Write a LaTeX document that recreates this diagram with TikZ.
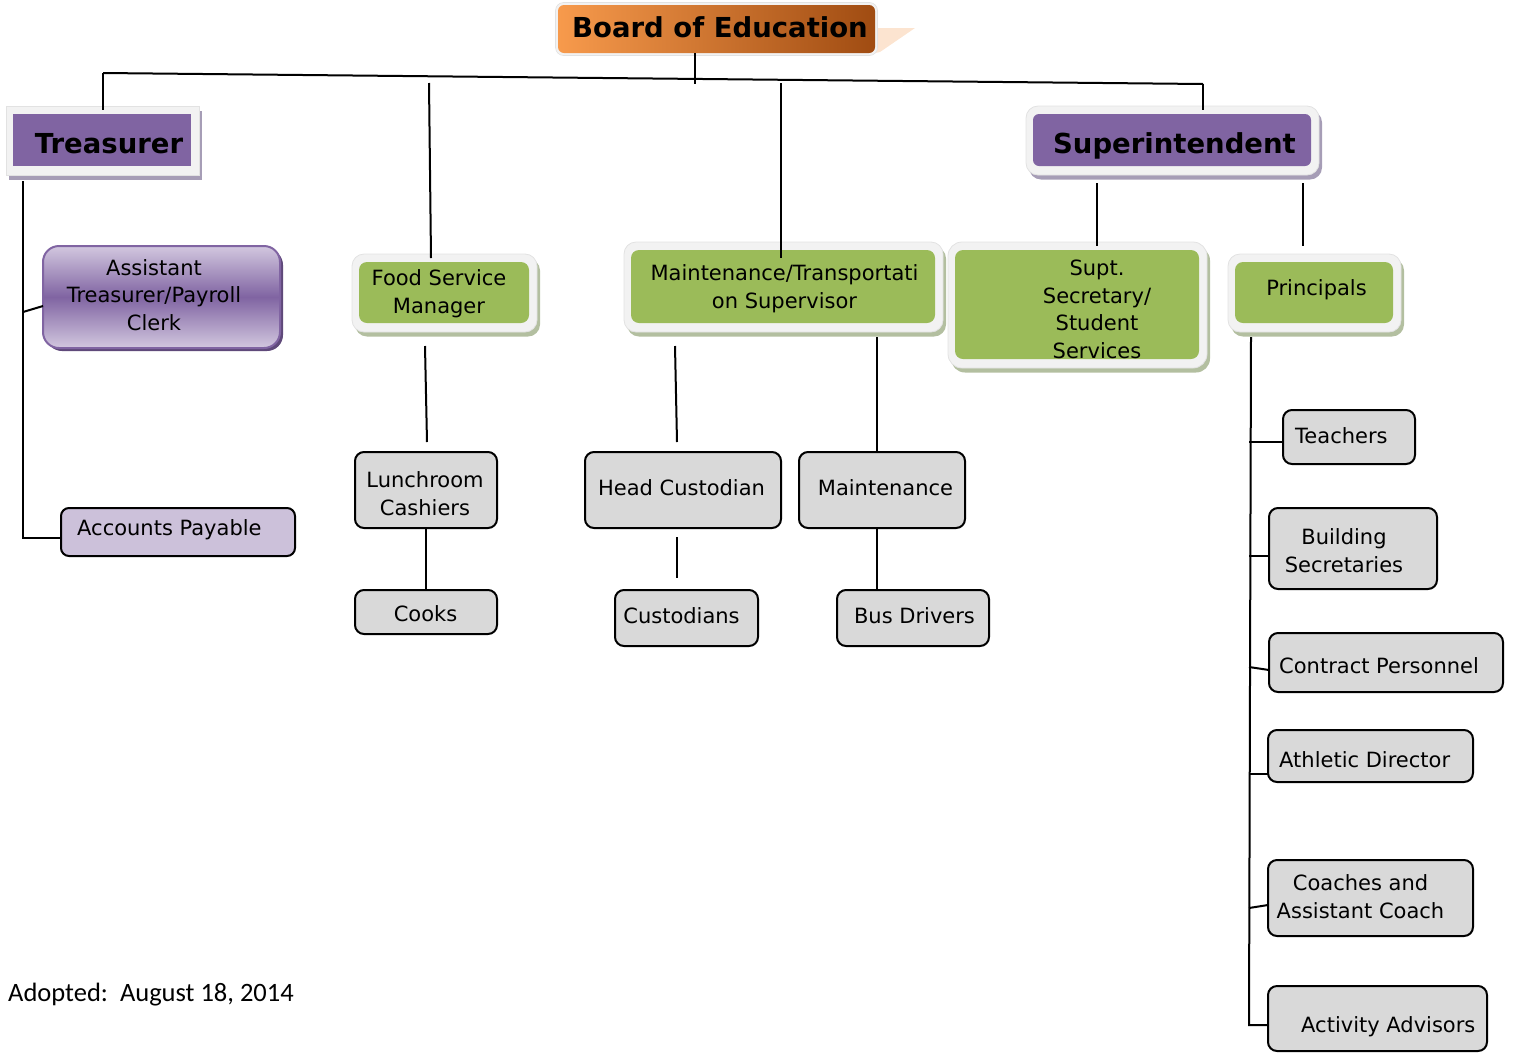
\documentclass[tikz,border=0pt]{standalone}
\usepackage{fontspec}
\setmainfont{DejaVu Sans}
\newfontfamily\calibfont{Carlito}
\usetikzlibrary{backgrounds,calc}
\definecolor{orangeL}{HTML}{F79A4C}
\definecolor{orangeD}{HTML}{A04C12}
\definecolor{purp}{HTML}{8064A2}
\definecolor{purpL}{HTML}{D2C7DF}
\definecolor{purpS}{HTML}{5F497A}
\definecolor{purpshadow}{HTML}{A69DB6}
\definecolor{greenbox}{HTML}{9BBB59}
\definecolor{greenshadow}{HTML}{B3BFA0}
\definecolor{framegray}{HTML}{F2F2F2}
\definecolor{frameedge}{HTML}{E2E2E2}
\definecolor{lav}{HTML}{CCC1DA}
\definecolor{boxgray}{HTML}{D9D9D9}
\definecolor{peach}{HTML}{FCE4D0}
\newcommand\myframe[3]{%
  \fill[#2, rounded corners=#3] ([shift={(-4pt,-13.5pt)}]#1.south west) rectangle ([shift={(11pt,3.5pt)}]#1.north east);
  \fill[framegray, draw=frameedge, line width=0.8pt, rounded corners=#3] ([shift={(-7pt,-9pt)}]#1.south west) rectangle ([shift={(8pt,8pt)}]#1.north east);
}
\begin{document}
\begin{tikzpicture}[x=1pt,y=-1pt,
  shape box/.style={rectangle, inner sep=0pt, outer sep=0pt},
  graybox/.style={shape box, draw=black, line width=2pt, rounded corners=9pt, fill=boxgray},
  lavbox/.style={shape box, draw=black, line width=2pt, rounded corners=8pt, fill=lav},
  purpbox/.style={shape box, fill=purp},
  greenbox/.style={shape box, fill=greenbox, rounded corners=8pt},
  orangebox/.style={shape box, rounded corners=6pt, left color=orangeL, right color=orangeD},
  txt/.style={inner sep=0pt, align=center, font=\fontsize{21}{27.5}\selectfont},
  bigtxt/.style={inner sep=0pt, font=\fontsize{27.5}{30}\selectfont\bfseries},
  conn/.style={draw=black, line width=2pt}]
\useasboundingbox (0,0) rectangle (1513,1053);
% ---------- boxes ----------
\node[orangebox, minimum width=317pt, minimum height=48pt] (board) at (716.5,29) {};
\node[purpbox, minimum width=178pt, minimum height=52pt] (tre) at (102,140) {};
\node[purpbox, rounded corners=6pt, minimum width=278pt, minimum height=52pt] (sup) at (1172,140) {};
\node[shape box, draw=purp, line width=2pt, rounded corners=16pt, top color=purpL, bottom color=purpL, middle color=purp, minimum width=237pt, minimum height=102pt] (ast) at (161.5,297) {};
\node[lavbox, minimum width=234pt, minimum height=48pt] (ap) at (178,532) {};
\node[greenbox, minimum width=170pt, minimum height=61pt] (food) at (444,292.5) {};
\node[greenbox, minimum width=304pt, minimum height=73pt] (maint) at (783,286.5) {};
\node[greenbox, minimum width=244pt, minimum height=109pt] (supt) at (1077,304.5) {};
\node[greenbox, minimum width=158pt, minimum height=61pt] (princ) at (1314,292.5) {};
\node[graybox, minimum width=142pt, minimum height=76pt] (lunch) at (426,490) {};
\node[graybox, minimum width=142pt, minimum height=44pt] (cooks) at (426,612) {};
\node[graybox, minimum width=196pt, minimum height=76pt] (head) at (683,490) {};
\node[graybox, minimum width=143pt, minimum height=56pt] (cust) at (686.5,618) {};
\node[graybox, minimum width=166pt, minimum height=76pt] (mbox) at (882,490) {};
\node[graybox, minimum width=152pt, minimum height=56pt] (bus) at (913,618) {};
\node[graybox, minimum width=132pt, minimum height=54pt] (teach) at (1349,437) {};
\node[graybox, minimum width=168pt, minimum height=81pt] (bld) at (1353,548.5) {};
\node[graybox, minimum width=234pt, minimum height=59pt] (con) at (1386,662.5) {};
\node[graybox, minimum width=205pt, minimum height=52pt] (ath) at (1370.5,756) {};
\node[graybox, minimum width=205pt, minimum height=76pt] (coa) at (1370.5,898) {};
\node[graybox, minimum width=219pt, minimum height=65pt] (act) at (1377.5,1018.5) {};
% ---------- frames and shadows ----------
\begin{scope}[on background layer]
  \fill[peach] ($(board.north east)+(0,23)$) -- ++(40,0) -- ($(board.south east)+(5,-1)$) -- (board.south east) -- cycle;
  \fill[framegray, draw=frameedge, line width=0.6pt, rounded corners=8pt] ([shift={(-2.5pt,-2.5pt)}]board.south west) rectangle ([shift={(2.5pt,2.5pt)}]board.north east);
  \myframe{tre}{purpshadow}{0pt}
  \myframe{sup}{purpshadow}{12pt}
  \myframe{food}{greenshadow}{12pt}
  \myframe{maint}{greenshadow}{12pt}
  \myframe{supt}{greenshadow}{14pt}
  \myframe{princ}{greenshadow}{12pt}
  \fill[purpS, rounded corners=16pt] ([shift={(3pt,-3pt)}]ast.south west) rectangle ([shift={(3pt,-3pt)}]ast.north east);
\end{scope}
% ---------- texts (multi-line: anchor at last baseline) ----------
\node[bigtxt, anchor=base] (tboard) at (720,37) {Board of Education};
\node[bigtxt, anchor=base] (ttre) at (109,153) {Treasurer};
\node[bigtxt, anchor=base] (tsup) at (1174.5,153) {Superintendent};
\node[txt, anchor=base] (tast) at (154,330) {Assistant\\Treasurer/Payroll\\Clerk};
\node[txt, anchor=base west] (tap) at (77,535) {Accounts Payable};
\node[txt, anchor=base] (tfood) at (439,313) {Food Service\\Manager};
\node[txt, anchor=base] (tmaint) at (784.5,308) {Maintenance/Transportati\\on Supervisor};
\node[txt, anchor=base] (tsupt) at (1097,358) {Supt.\\Secretary/\\Student\\Services};
\node[txt, anchor=base] (tprinc) at (1316.5,295) {Principals};
\node[txt, anchor=base] (tlunch) at (425,515) {Lunchroom\\Cashiers};
\node[txt, anchor=base] (tcooks) at (425.5,621.5) {Cooks};
\node[txt, anchor=base] (thead) at (681.5,495) {Head Custodian};
\node[txt, anchor=base] (tcust) at (681.5,623) {Custodians};
\node[txt, anchor=base] (tmbox) at (885.5,495) {Maintenance};
\node[txt, anchor=base] (tbus) at (914.5,623) {Bus Drivers};
\node[txt, anchor=base west] (tteach) at (1295,443) {Teachers};
\node[txt, anchor=base] (tbld) at (1344,572) {Building\\Secretaries};
\node[txt, anchor=base west] (tcon) at (1279,673) {Contract Personnel};
\node[txt, anchor=base west] (tath) at (1279,767) {Athletic Director};
\node[txt, anchor=base] (tcoa) at (1360.5,918) {Coaches and\\Assistant Coach};
\node[txt, anchor=base west] (tact) at (1301,1032) {Activity Advisors};
\node[inner sep=0pt, anchor=base west, font=\calibfont\fontsize{26.5}{30}\selectfont] (adopt) at (8,1001) {Adopted:\ \ August 18, 2014};
% ---------- connectors ----------
\coordinate (hl) at (103,73);
\coordinate (hr) at (1203,84);
\coordinate (fa) at (429,83);
\coordinate (ma) at (781,83);
\coordinate (pv) at (1249,1025);
\draw[conn] (hl) -- (hr);
\draw[conn] ([xshift=-21.5pt]board.south) -- ++(0,31);
\draw[conn] (hl) -- ([yshift=4pt]tre.north -| hl);
\draw[conn] (hr) -- ([yshift=4pt]sup.north -| hr);
\draw[conn] (fa) -- ([xshift=-13pt,yshift=4pt]food.north);
\draw[conn] (ma) -- ([xshift=-2pt,yshift=-8pt]maint.north);
% treasurer branch
\draw[conn] ([shift={(10pt,-15pt)}]tre.south west) |- ([yshift=-6pt]ap.west);
\draw[conn] ([yshift=-15pt]ast.west -| ap.west) ++(-38,0) -- ([yshift=-9pt]ast.west);
% food service
\draw[conn] ([xshift=-19pt,yshift=-23pt]food.south) -- ([xshift=1pt,yshift=10pt]lunch.north);
\draw[conn] (lunch.south) -- (cooks.north);
% maintenance
\draw[conn] ([xshift=-108pt,yshift=-23pt]maint.south) -- ([xshift=-6pt,yshift=10pt]head.north);
\draw[conn] ([xshift=-6pt,yshift=-9pt]head.south) -- ([xshift=-9.5pt,yshift=12pt]cust.north);
\draw[conn] ([xshift=94pt,yshift=-14pt]maint.south) -- ([xshift=-5pt]mbox.north);
\draw[conn] ([xshift=-5pt]mbox.south) -- ([xshift=-36pt]bus.north);
% superintendent
\draw[conn] ([xshift=-75pt,yshift=-17pt]sup.south) -- ([xshift=20pt,yshift=4pt]supt.north);
\draw[conn] ([xshift=131pt,yshift=-17pt]sup.south) -- ([xshift=-11pt,yshift=16pt]princ.north);
% principals
\draw[conn] ([xshift=-63pt,yshift=-14pt]princ.south) -- (pv) -- ([yshift=-6.5pt]act.west);
\draw[conn] ([yshift=-5pt]teach.west -| pv) -- ([yshift=-5pt]teach.west);
\draw[conn] ([yshift=-7.5pt]bld.west -| pv) -- ([yshift=-7.5pt]bld.west);
\draw[conn] ([yshift=-4.5pt]con.west -| pv) -- ([yshift=-7.5pt]con.west);
\draw[conn] ([yshift=-18pt]ath.west -| pv) -- ([yshift=-18pt]ath.west);
\draw[conn] ([yshift=-10pt]coa.west -| pv) -- ([yshift=-7pt]coa.west);
\end{tikzpicture}
\end{document}
